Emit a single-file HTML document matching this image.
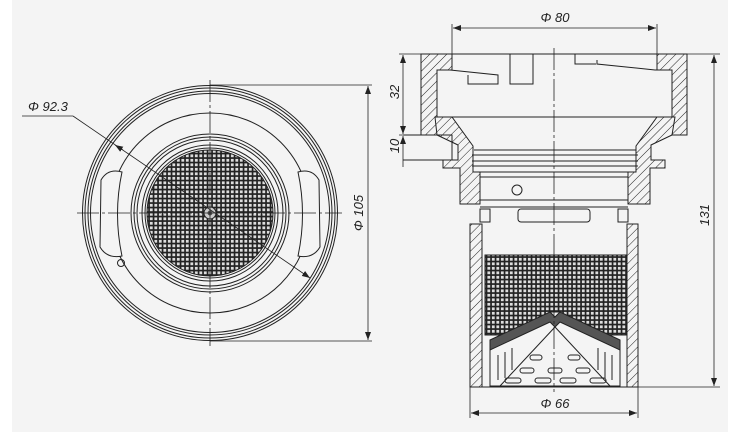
<!DOCTYPE html>
<html><head><meta charset="utf-8"><style>
html,body{margin:0;padding:0;background:#fff;}
svg{display:block;}
text{font-family:"Liberation Sans",sans-serif;font-style:italic;font-size:13px;fill:#222;}
</style></head><body>
<svg width="745" height="437" viewBox="0 0 745 437" xmlns="http://www.w3.org/2000/svg">
<defs>
<pattern id="hat" width="6" height="6" patternUnits="userSpaceOnUse" patternTransform="rotate(45)">
<rect width="6" height="6" fill="#f4f4f4"/><line x1="0" y1="0" x2="0" y2="6" stroke="#222" stroke-width="1"/>
</pattern>
<pattern id="mesh" width="4.5" height="4.5" patternUnits="userSpaceOnUse">
<rect width="4.5" height="4.5" fill="#222"/><rect x="1.4" y="1.4" width="2.8" height="2.8" fill="#ddd"/>
</pattern>
<marker id="ar" markerWidth="8" markerHeight="6" refX="8" refY="3" orient="auto-start-reverse" markerUnits="userSpaceOnUse">
<path d="M0,0 L8,3 L0,6 z" fill="#222"/></marker>
</defs>
<rect x="0" y="0" width="745" height="437" fill="#fff"/>
<rect x="12" y="0" width="716" height="432" fill="#f4f4f4"/>

<!-- LEFT VIEW -->
<g fill="none" stroke="#222" stroke-width="1">
<circle cx="210" cy="213" r="127.5"/>
<circle cx="210" cy="213" r="125"/>
<circle cx="210" cy="213" r="122"/>
<circle cx="210" cy="213" r="119.5"/>
<circle cx="210" cy="213" r="100"/>
<circle cx="210" cy="213" r="79"/>
<circle cx="210" cy="213" r="76"/>
<circle cx="210" cy="213" r="73"/>
<circle cx="210" cy="213" r="68"/>
<circle cx="210" cy="213" r="65"/>
</g>
<circle cx="210" cy="213" r="63" fill="url(#mesh)" stroke="#222"/>
<!-- lugs -->
<g fill="#f4f4f4" stroke="#222" stroke-width="1">
<path d="M122,172 Q108,168 101,180 L100,247 Q107,259 122,256 Q113,214 122,172 z"/>
<path d="M298,172 Q312,168 319,180 L320,247 Q313,259 298,256 Q307,214 298,172 z"/>
</g>
<circle cx="121" cy="263" r="3.5" fill="none" stroke="#222"/>
<circle cx="210" cy="213" r="6" fill="#ccc" stroke="#222"/>
<circle cx="210" cy="213" r="2.5" fill="#555"/>
<!-- centerlines -->
<g stroke="#222" stroke-width="0.8" stroke-dasharray="22,3,3,3">
<line x1="77" y1="213" x2="342" y2="213"/>
<line x1="210" y1="80" x2="210" y2="346"/>
</g>
<!-- dims left -->
<g stroke="#222" stroke-width="0.8" fill="none">
<line x1="210" y1="85" x2="372" y2="85"/>
<line x1="210" y1="341" x2="372" y2="341"/>
<line x1="368" y1="86" x2="368" y2="340" marker-start="url(#ar)" marker-end="url(#ar)"/>
<line x1="22" y1="116" x2="73" y2="116"/>
<line x1="73" y1="116" x2="310" y2="278" marker-end="url(#ar)"/>
<line x1="115" y1="145" x2="123" y2="150" marker-start="url(#ar)"/>
</g>
<text x="28" y="111">Φ 92.3</text>
<text transform="translate(363,213) rotate(-90)" text-anchor="middle">Φ 105</text>

<!-- RIGHT VIEW -->
<g stroke="#222" stroke-width="1">
<!-- top flange walls -->
<path d="M421,54 L452,54 L452,70 L437,70 L437,135 L421,135 z" fill="url(#hat)"/>
<path d="M657,54 L687,54 L687,135 L672,135 L672,70 L657,70 z" fill="url(#hat)"/>
<line x1="452" y1="54" x2="657" y2="54" fill="none"/>
<!-- interior top shapes -->
<path d="M437,70 L450,70 L498,75 L498,84 L468,84 L468,75" fill="none"/>
<path d="M510,54 L510,84 L533,84 L533,54" fill="none"/>
<path d="M575,54 L575,64 L596,64 M597,60 L597,64 L655,70 L657,70" fill="none"/>
<!-- cone -->
<path d="M435,117 L452,117 L473,146 L473,172 L480,172 L480,204 L460,204 L460,168 L443,168 L443,160 L458,160 L458,145 L437,135 Z" fill="url(#hat)"/>
<path d="M675,117 L657,117 L636,146 L636,172 L628,172 L628,204 L650,204 L650,168 L665,168 L665,160 L651,160 L651,145 L672,135 Z" fill="url(#hat)"/>
<line x1="452" y1="117" x2="657" y2="117" fill="none"/>
<!-- threads -->
<g fill="none">
<line x1="474" y1="150" x2="636" y2="150"/>
<line x1="472" y1="155" x2="638" y2="155"/>
<line x1="472" y1="161" x2="638" y2="161"/>
<line x1="472" y1="166" x2="638" y2="166"/>
<line x1="474" y1="172" x2="636" y2="172"/>
<line x1="480" y1="177" x2="628" y2="177"/>
<line x1="480" y1="200" x2="628" y2="200"/>
</g>
<!-- left lip / 10 box -->
<path d="M403,135 L452,135 L452,160 L403,160" fill="none"/>
<!-- small circle & slot -->
<circle cx="517" cy="190" r="5" fill="none"/>
<rect x="518" y="209" width="72" height="13" rx="3" fill="none"/>
<!-- blocks -->
<rect x="480" y="209" width="10" height="13" fill="none"/>
<rect x="618" y="209" width="10" height="13" fill="none"/>
<line x1="480" y1="207" x2="628" y2="207"/>
<!-- lower body -->
<rect x="470" y="224" width="12" height="163" fill="url(#hat)"/>
<rect x="627" y="224" width="11" height="163" fill="url(#hat)"/>
<line x1="470" y1="387" x2="638" y2="387"/>
<!-- mesh -->
<rect x="485" y="255" width="141" height="80" fill="url(#mesh)"/>
<path d="M490,350 L550,312 L560,312 L620,350 L620,386 L490,386 Z" fill="#f4f4f4"/>
<path d="M490,340 L550,312 L555,317 L560,312 L620,340 L620,350 L560,322 L555,327 L550,322 L490,350 Z" fill="#555"/>
<g fill="none">
<line x1="555" y1="327" x2="500" y2="386"/><line x1="555" y1="327" x2="610" y2="386"/>
<line x1="498" y1="355" x2="498" y2="380"/><line x1="505" y1="352" x2="505" y2="378"/>
<line x1="512" y1="348" x2="512" y2="370"/><line x1="598" y1="348" x2="598" y2="370"/>
<line x1="605" y1="352" x2="605" y2="378"/><line x1="612" y1="355" x2="612" y2="380"/>
<rect x="530" y="355" width="12" height="5" rx="2.5"/><rect x="568" y="355" width="12" height="5" rx="2.5"/>
<rect x="520" y="368" width="14" height="5" rx="2.5"/><rect x="548" y="368" width="14" height="5" rx="2.5"/><rect x="576" y="368" width="14" height="5" rx="2.5"/>
<rect x="505" y="378" width="16" height="5" rx="2.5"/><rect x="535" y="378" width="16" height="5" rx="2.5"/><rect x="560" y="378" width="16" height="5" rx="2.5"/><rect x="590" y="378" width="16" height="5" rx="2.5"/>
</g>
</g>
<!-- centerline right -->
<line x1="554" y1="48" x2="554" y2="392" stroke="#222" stroke-width="0.8" stroke-dasharray="22,3,3,3"/>
<!-- dims right -->
<g stroke="#222" stroke-width="0.8" fill="none">
<line x1="452" y1="24" x2="452" y2="54"/>
<line x1="657" y1="24" x2="657" y2="54"/>
<line x1="453" y1="28" x2="656" y2="28" marker-start="url(#ar)" marker-end="url(#ar)"/>
<line x1="399" y1="54" x2="421" y2="54"/>
<line x1="399" y1="135" x2="421" y2="135"/>
<line x1="403" y1="55" x2="403" y2="134" marker-start="url(#ar)" marker-end="url(#ar)"/>
<line x1="403" y1="136" x2="403" y2="167" marker-start="url(#ar)"/>
<line x1="687" y1="54" x2="720" y2="54"/>
<line x1="638" y1="387" x2="720" y2="387"/>
<line x1="714" y1="55" x2="714" y2="386" marker-start="url(#ar)" marker-end="url(#ar)"/>
<line x1="470" y1="387" x2="470" y2="418"/>
<line x1="638" y1="387" x2="638" y2="418"/>
<line x1="471" y1="413" x2="637" y2="413" marker-start="url(#ar)" marker-end="url(#ar)"/>
</g>
<text x="555" y="22" text-anchor="middle">Φ 80</text>
<text x="555" y="408" text-anchor="middle">Φ 66</text>
<text transform="translate(399,92) rotate(-90)" text-anchor="middle">32</text>
<text transform="translate(399,146) rotate(-90)" text-anchor="middle">10</text>
<text transform="translate(709,215) rotate(-90)" text-anchor="middle">131</text>
</svg>
</body></html>
